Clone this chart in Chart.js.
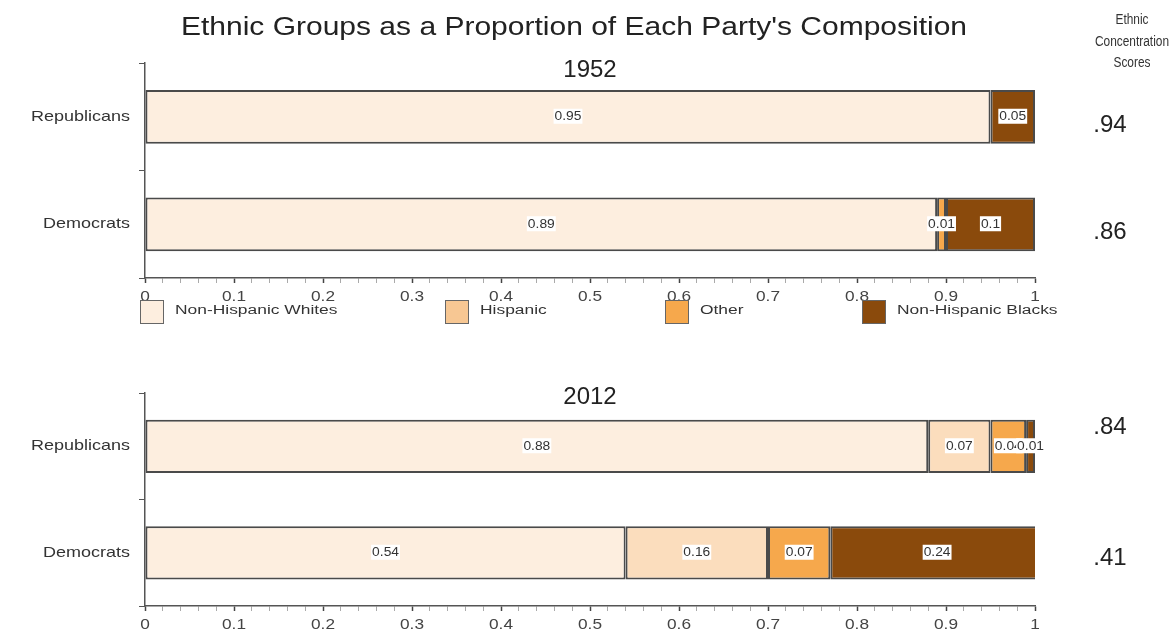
<!DOCTYPE html>
<html>
<head>
<meta charset="utf-8">
<script src="https://cdn.jsdelivr.net/npm/chart.js@4.4.0/dist/chart.umd.min.js"></script>
<style>
  body { margin: 0; background: #fff; }
  #wrap { position: relative; width: 1171px; height: 637px; }
  canvas { position: absolute; left: 0; }
  #top { top: 0; }
  #bottom { top: 340px; }
</style>
</head>
<body>
<div id="wrap">
  <canvas id="top" width="1171" height="340"></canvas>
  <canvas id="bottom" width="1171" height="297"></canvas>
</div>
<script>
// Data
const categories = ['Republicans', 'Democrats'];
const groups = ['Non-Hispanic Whites', 'Hispanic', 'Other', 'Non-Hispanic Blacks'];

const whites1952 = [0.95, 0.89];
const hispanic1952 = [0, 0];
const other1952 = [0, 0.01];
const blacks1952 = [0.05, 0.1];

const whites2012 = [0.88, 0.54];
const hispanic2012 = [0.07, 0.16];
const other2012 = [0.04, 0.07];
const blacks2012 = [0.01, 0.24];

const scores1952 = ['.94', '.86'];
const scores2012 = ['.84', '.41'];

const xTickLabels = ['0', '0.1', '0.2', '0.3', '0.4', '0.5', '0.6', '0.7', '0.8', '0.9', '1'];

const barColors = ['#FDEEDF', '#FBDDBD', '#F6A84C', '#8A4A0C'];
const legendColors = ['#FDEEDF', '#F7C793', '#F6A84C', '#8A4A0C'];
const FONT = '"Liberation Sans", Arial, Helvetica, sans-serif';

// text drawn a bit wider than the font, like the reference
function drawText(ctx, text, x, y, size, sx, align, color) {
    ctx.save();
    ctx.font = size + 'px ' + FONT;
    ctx.fillStyle = color;
    ctx.textAlign = align;
    ctx.textBaseline = 'middle';
    ctx.translate(x, y);
    ctx.scale(sx, 1);
    ctx.fillText(text, 0, 0);
    ctx.restore();
}

// Labels with white boxes in the middle of each segment
const valueLabels = {
    id: 'valueLabels',
    afterDatasetsDraw(chart) {
        const ctx = chart.ctx;
        const sx = 1.15;
        ctx.save();
        ctx.font = '12px ' + FONT;
        chart.data.datasets.forEach((ds, i) => {
            chart.getDatasetMeta(i).data.forEach((bar, j) => {
                const v = ds.data[j];
                if (!v) return;
                const x = (bar.base + bar.x) / 2;
                const text = String(v);
                const w = ctx.measureText(text).width * sx;
                ctx.fillStyle = '#fff';
                ctx.fillRect(x - w / 2 - 1, bar.y - 8, w + 2, 15);
                drawText(ctx, text, x, bar.y, 12, sx, 'center', '#333');
            });
        });
        ctx.restore();
    }
};

// Axis labels, titles, year, scores and legend
const extras = {
    id: 'extras',
    afterDraw(chart, args, opts) {
        const ctx = chart.ctx;
        const xScale = chart.scales.x;
        const yScale = chart.scales.y;
        const area = chart.chartArea;

        categories.forEach((c, i) => {
            drawText(ctx, c, 130, yScale.getPixelForValue(i), 15, 1.2, 'right', '#333');
        });
        xTickLabels.forEach(t => {
            drawText(ctx, t, xScale.getPixelForValue(parseFloat(t)), area.bottom + 19, 15, 1.15, 'center', '#444');
        });

        if (opts.title) {
            drawText(ctx, opts.title, 574, 28, 25, 1.2, 'center', '#222');
            drawText(ctx, 'Ethnic', 1132, 20, 14, 0.85, 'center', '#333');
            drawText(ctx, 'Concentration', 1132, 42, 14, 0.85, 'center', '#333');
            drawText(ctx, 'Scores', 1132, 63, 14, 0.85, 'center', '#333');
        }
        drawText(ctx, opts.year, 590, opts.yearY, 24, 1, 'center', '#222');
        opts.scores.forEach((s, i) => {
            const y = yScale.getPixelForValue(i) + opts.scoreShift[i];
            drawText(ctx, s, 1110, y, 24, 1, 'center', '#222');
        });

        if (opts.legend) {
            const xs = [140, 445, 665, 862];
            groups.forEach((g, i) => {
                ctx.fillStyle = legendColors[i];
                ctx.strokeStyle = '#666';
                ctx.lineWidth = 1;
                ctx.fillRect(xs[i], 300, 23, 23);
                ctx.strokeRect(xs[i] + 0.5, 300.5, 23, 23);
                drawText(ctx, g, xs[i] + 35, 311, 12, 1.45, 'left', '#333');
            });
        }
    }
};

function makeDatasets(w, h, o, b) {
    return [w, h, o, b].map((arr, i) => ({
        label: groups[i],
        data: arr,
        backgroundColor: barColors[i],
        borderColor: '#4a4a4a',
        borderWidth: 2,
        borderSkipped: false,
        categoryPercentage: 1,
        barPercentage: 0.5
    }));
}

function makeChart(id, datasets, axisH, pad, extraOpts) {
    return new Chart(document.getElementById(id), {
        type: 'bar',
        data: { labels: categories, datasets: datasets },
        plugins: [valueLabels, extras],
        options: {
            indexAxis: 'y',
            responsive: false,
            animation: false,
            layout: { padding: { top: pad, right: 136, left: 0, bottom: 0 } },
            plugins: {
                legend: { display: false },
                tooltip: { enabled: false },
                extras: extraOpts
            },
            scales: {
                x: {
                    stacked: true,
                    min: 0,
                    max: 1,
                    afterFit: s => { s.height = axisH; },
                    afterBuildTicks: s => {
                        s.ticks = [];
                        for (let k = 0; k <= 50; k++) s.ticks.push({ value: k / 50 });
                    },
                    border: { color: '#555', width: 1.5 },
                    grid: {
                        drawOnChartArea: false,
                        tickLength: 5,
                        tickColor: c => (c.index % 5 === 0 ? '#444' : '#aaa'),
                        tickWidth: c => (c.index % 5 === 0 ? 1.5 : 1)
                    },
                    ticks: { display: false, autoSkip: false }
                },
                y: {
                    stacked: true,
                    offset: true,
                    afterFit: s => { s.width = 145; },
                    border: { color: '#555', width: 1.5 },
                    grid: { offset: true, drawOnChartArea: false, tickLength: 6, color: '#555' },
                    ticks: { display: false }
                }
            }
        }
    });
}

makeChart('top', makeDatasets(whites1952, hispanic1952, other1952, blacks1952), 62, 63, {
    title: "Ethnic Groups as a Proportion of Each Party's Composition",
    year: '1952', yearY: 70, scores: scores1952, scoreShift: [9, 8], legend: true
});
makeChart('bottom', makeDatasets(whites2012, hispanic2012, other2012, blacks2012), 31, 53, {
    year: '2012', yearY: 57, scores: scores2012, scoreShift: [-19, 6], legend: false
});
</script>
</body>
</html>
